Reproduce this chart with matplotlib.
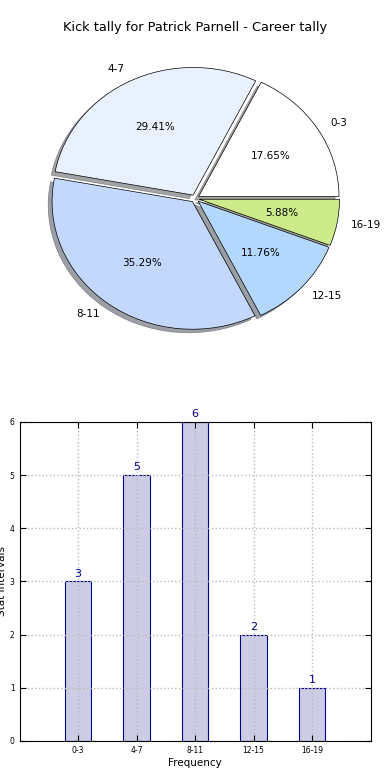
import matplotlib
matplotlib.use("Agg")
import matplotlib.pyplot as plt
import numpy as np

# Data
intervals = ["0-3", "4-7", "8-11", "12-15", "16-19"]
kicks = [3, 5, 6, 2, 1]
pie_colors = ["#FFFFFF", "#EAF1FE", "#C4D8FE", "#B4D7FE", "#CDEB8B"]
explode = [0.03, 0.03, 0.03, 0.03, 0.03]

fig = plt.figure(figsize=(3.9, 7.8), dpi=100)
fig.subplots_adjust(left=0.05, right=0.95, bottom=0.05, top=0.95, hspace=0.2)

# Pie
ax1 = fig.add_subplot(2, 1, 1)
wedges, texts, autotexts = ax1.pie(
    kicks, labels=intervals, colors=pie_colors, explode=explode,
    autopct="%1.2f%%", shadow=True, startangle=0,
    wedgeprops={"edgecolor": "black", "linewidth": 0.5},
    textprops={"fontsize": 7.5},
)
ax1.set_aspect("auto")
ax1.set_xlim(-1.25, 1.25)
ax1.set_ylim(-1.25, 1.25)
ax1.set_title("Kick tally for Patrick Parnell - Career tally", fontsize=9.3)

# Bars
ax2 = fig.add_subplot(2, 1, 2)
x = np.arange(len(intervals))
bars = ax2.bar(x, kicks, width=0.45, color="#CCCCE5", edgecolor="darkblue", linewidth=0.8)
for b, v in zip(bars, kicks):
    ax2.text(b.get_x() + b.get_width() / 2, v + 0.05, str(v),
             ha="center", va="bottom", fontsize=8, color="darkblue")

ax2.set_xlim(-1, 5)
ax2.set_ylim(0, 6)
ax2.set_xticks(x)
ax2.set_xticklabels(intervals)
ax2.set_yticks(range(0, 7))
ax2.tick_params(labelsize=5.5, direction="in", top=True, right=True, length=4)
ax2.grid(True, color="#BBBBBB", linestyle=":", linewidth=1)
ax2.set_axisbelow(False)
for sp in ax2.spines.values():
    sp.set_zorder(3)
ax2.set_xlabel("Frequency", fontsize=7.5, labelpad=2)
ax2.set_ylabel("Stat Intervals", fontsize=7.5, labelpad=2)

plt.savefig("out.png", dpi=100)
